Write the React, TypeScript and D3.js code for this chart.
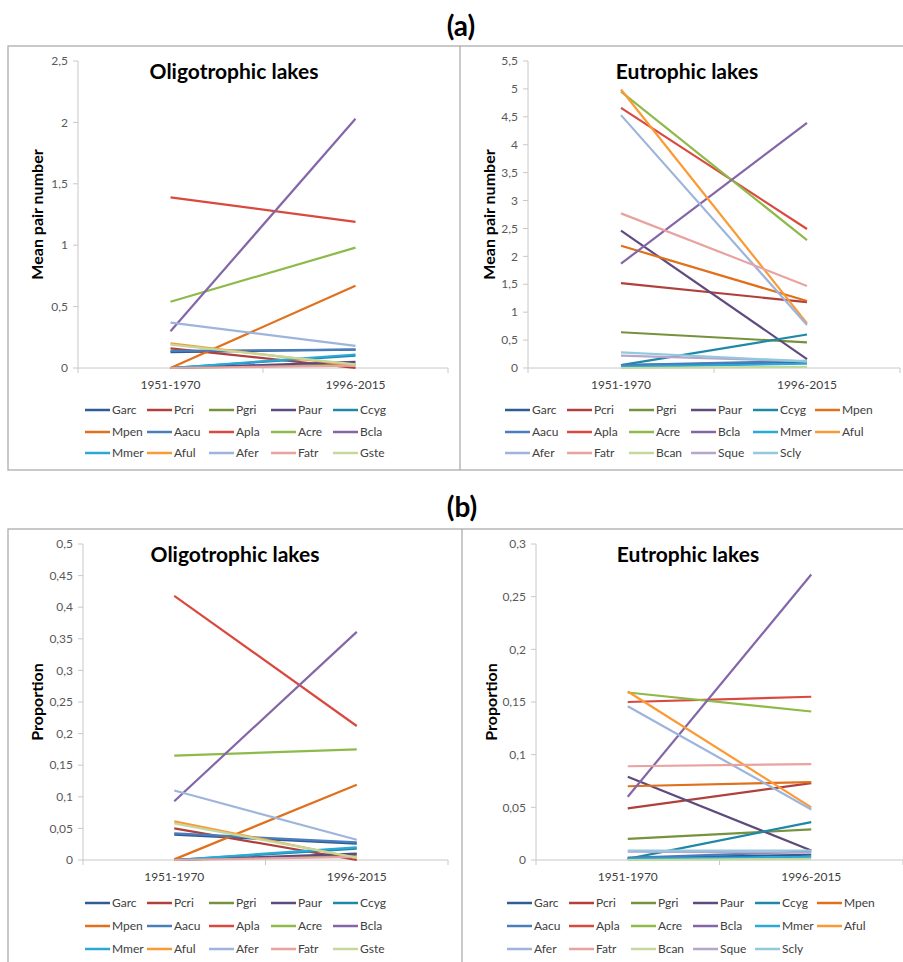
import React from "react";
import * as d3 from "d3";

// periods on the x axis
const periods = ["1951-1970", "1996-2015"];

const oligoSpecies = ["Garc", "Pcri", "Pgri", "Paur", "Ccyg", "Mpen", "Aacu", "Apla", "Acre", "Bcla", "Mmer", "Aful", "Afer", "Fatr", "Gste"];
const eutroSpecies = ["Garc", "Pcri", "Pgri", "Paur", "Ccyg", "Mpen", "Aacu", "Apla", "Acre", "Bcla", "Mmer", "Aful", "Afer", "Fatr", "Bcan", "Sque", "Scly"];

// (a) mean pair number, [1951-1970, 1996-2015], same order as species
const oligoPairs = [
  [0.13, 0.15], [0.16, 0.0], [0.0, 0.03], [0.0, 0.05], [0.0, 0.1],
  [0.0, 0.67], [0.14, 0.15], [1.39, 1.19], [0.54, 0.98], [0.3, 2.03],
  [0.0, 0.11], [0.2, 0.02], [0.37, 0.18], [0.0, 0.02], [0.19, 0.03],
];
const eutroPairs = [
  [0.05, 0.1], [1.52, 1.18], [0.64, 0.46], [2.46, 0.16], [0.05, 0.6],
  [2.19, 1.2], [0.05, 0.13], [4.66, 2.49], [4.95, 2.29], [1.87, 4.39],
  [0.02, 0.08], [4.99, 0.8], [4.53, 0.77], [2.77, 1.47], [0.0, 0.02],
  [0.22, 0.12], [0.28, 0.12],
];

// (b) proportion
const oligoProp = [
  [0.04, 0.026], [0.05, 0.0], [0.0, 0.008], [0.0, 0.01], [0.0, 0.018],
  [0.001, 0.119], [0.042, 0.028], [0.418, 0.212], [0.165, 0.175], [0.093, 0.361],
  [0.0, 0.02], [0.061, 0.003], [0.11, 0.032], [0.0, 0.005], [0.058, 0.004],
];
const eutroProp = [
  [0.002, 0.005], [0.049, 0.073], [0.02, 0.029], [0.079, 0.009], [0.001, 0.036],
  [0.07, 0.074], [0.002, 0.008], [0.15, 0.155], [0.159, 0.141], [0.06, 0.271],
  [0.001, 0.003], [0.16, 0.05], [0.146, 0.048], [0.089, 0.091], [0.0, 0.001],
  [0.008, 0.007], [0.009, 0.009],
];

const colors: Record<string, string> = {
  Garc: "#2f5b96",
  Pcri: "#b0403c",
  Pgri: "#76923c",
  Paur: "#5f4a7e",
  Ccyg: "#1f88a6",
  Mpen: "#e0701c",
  Aacu: "#4a7ebb",
  Apla: "#d9493f",
  Acre: "#8dba48",
  Bcla: "#8466a8",
  Mmer: "#2aa8d6",
  Aful: "#fb9a35",
  Afer: "#9db5dc",
  Fatr: "#e8a3a0",
  Gste: "#c4d89d",
  Bcan: "#c4d89d",
  Sque: "#b7a6cc",
  Scly: "#93c9dd",
};

const FONT = "Lato, 'Open Sans', sans-serif";

type PanelProps = {
  box: { x: number; y: number; w: number };
  plot: { l: number; r: number; t: number; b: number };
  yMax: number;
  step: number;
  title: string;
  yLabel: string;
  species: string[];
  values: number[][];
  legend: { x: number; cols: number; rows: number[] };
  labelY: number;
};

const fmt = (v: number) => String(+v.toFixed(2)).replace(".", ",");

function Panel({ box, plot, yMax, step, title, yLabel, species, values, legend, labelY }: PanelProps) {
  const x = d3.scaleBand().domain(periods).range([plot.l, plot.r]);
  const y = d3.scaleLinear().domain([0, yMax]).range([plot.b, plot.t]);
  const ticks = d3.range(0, yMax + step / 2, step);
  const line = d3
    .line<number>()
    .x((_, i) => (x(periods[i]) as number) + x.bandwidth() / 2)
    .y((d) => y(d));
  const cx = box.x + box.w / 2;
  const bounds = [plot.l, plot.l + x.bandwidth(), plot.r];

  return (
    <g>
      <text x={cx} y={plot.t + 18} textAnchor="middle" fontSize={21} fontWeight="bold" fill="#000">
        {title}
      </text>
      <text
        transform={`translate(${box.x + 35},${(plot.t + plot.b) / 2}) rotate(-90)`}
        textAnchor="middle"
        fontSize={16}
        fontWeight="bold"
        fill="#000"
      >
        {yLabel}
      </text>
      {/* y axis */}
      <line x1={plot.l} x2={plot.l} y1={plot.t} y2={plot.b} stroke="#c8c8c8" />
      {ticks.map((t) => (
        <g key={t}>
          <line x1={plot.l - 5} x2={plot.l} y1={y(t)} y2={y(t)} stroke="#c8c8c8" />
          <text x={plot.l - 10} y={y(t)} dy="0.35em" textAnchor="end" fontSize={12} fill="#595959">
            {fmt(t)}
          </text>
        </g>
      ))}
      {/* x axis */}
      <line x1={plot.l} x2={plot.r} y1={plot.b} y2={plot.b} stroke="#c8c8c8" />
      {bounds.map((b) => (
        <line key={b} x1={b} x2={b} y1={plot.b} y2={plot.b + 5} stroke="#c8c8c8" />
      ))}
      {periods.map((p) => (
        <text
          key={p}
          x={(x(p) as number) + x.bandwidth() / 2}
          y={labelY}
          dy="0.35em"
          textAnchor="middle"
          fontSize={12}
          fill="#404040"
        >
          {p}
        </text>
      ))}
      {/* series */}
      {species.map((s, i) => (
        <path key={s} d={line(values[i]) as string} fill="none" stroke={colors[s]} strokeWidth={2.2} />
      ))}
      {/* legend */}
      {species.map((s, i) => {
        const lx = legend.x + (i % legend.cols) * 62;
        const ly = legend.rows[Math.floor(i / legend.cols)];
        return (
          <g key={s}>
            <line x1={lx} x2={lx + 25} y1={ly} y2={ly} stroke={colors[s]} strokeWidth={2.5} />
            <text x={lx + 27} y={ly} dy="0.35em" fontSize={12} fill="#404040">
              {s}
            </text>
          </g>
        );
      })}
    </g>
  );
}

export default function App() {
  return (
    <svg
      width={903}
      height={962}
      style={{ position: "absolute", left: 0, top: 0, background: "#fff" }}
      fontFamily={FONT}
    >
      <rect width={903} height={962} fill="#fff" />
      <text x={461} y={26} dy="0.35em" textAnchor="middle" fontSize={28} fontWeight="bold">
        (a)
      </text>
      <text x={462} y={507} dy="0.35em" textAnchor="middle" fontSize={28} fontWeight="bold">
        (b)
      </text>

      {/* panel frames */}
      <g fill="none" stroke="#a6a6a6" strokeWidth={1.2}>
        <rect x={8} y={46} width={920} height={424} />
        <line x1={460} x2={460} y1={46} y2={470} />
        <rect x={8} y={529} width={920} height={460} />
        <line x1={462} x2={462} y1={529} y2={962} />
      </g>

      <Panel
        box={{ x: 8, y: 46, w: 452 }}
        plot={{ l: 78, r: 448, t: 61, b: 368 }}
        yMax={2.5}
        step={0.5}
        title="Oligotrophic lakes"
        yLabel="Mean pair number"
        species={oligoSpecies}
        values={oligoPairs}
        legend={{ x: 85, cols: 5, rows: [410, 432, 453] }}
        labelY={385}
      />
      <Panel
        box={{ x: 460, y: 46, w: 454 }}
        plot={{ l: 528, r: 900, t: 61, b: 368 }}
        yMax={5.5}
        step={0.5}
        title="Eutrophic lakes"
        yLabel="Mean pair number"
        species={eutroSpecies}
        values={eutroPairs}
        legend={{ x: 505, cols: 6, rows: [410, 432, 453] }}
        labelY={385}
      />
      <Panel
        box={{ x: 8, y: 529, w: 454 }}
        plot={{ l: 83, r: 448, t: 544, b: 860 }}
        yMax={0.5}
        step={0.05}
        title="Oligotrophic lakes"
        yLabel="Proportion"
        species={oligoSpecies}
        values={oligoProp}
        legend={{ x: 85, cols: 5, rows: [903, 926, 949] }}
        labelY={877}
      />
      <Panel
        box={{ x: 462, y: 529, w: 452 }}
        plot={{ l: 536, r: 903, t: 544, b: 860 }}
        yMax={0.3}
        step={0.05}
        title="Eutrophic lakes"
        yLabel="Proportion"
        species={eutroSpecies}
        values={eutroProp}
        legend={{ x: 507, cols: 6, rows: [903, 926, 949] }}
        labelY={877}
      />
    </svg>
  );
}
